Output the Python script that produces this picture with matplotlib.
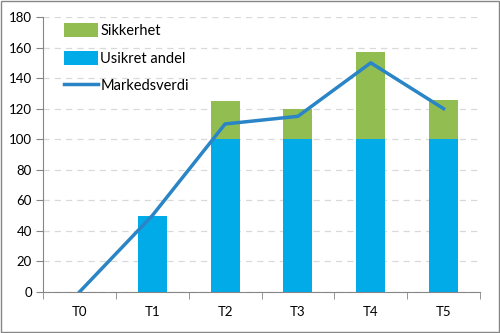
import numpy as np
import matplotlib
matplotlib.use("Agg")
from matplotlib import pyplot as plt
from matplotlib.patches import Rectangle

matplotlib.rcParams.update({'font.size': 9.5, 'font.family': ['Lato', 'DejaVu Sans']})

# --- data ---
categories = ["T0", "T1", "T2", "T3", "T4", "T5"]
usikret = [0, 50, 100, 100, 100, 100]
sikkerhet = [0, 0, 25, 20, 57, 26]
markedsverdi = [0, 50, 110, 115, 150, 120]

blue_bar = "#00ABE8"
green_bar = "#92BD50"
line_col = "#2A85C7"
grey = "#868686"

fig = plt.figure(figsize=(5, 3.33), dpi=100)
ax = fig.add_axes([0.086, 0.123, 0.874, 0.826])

x = np.arange(len(categories))
ax.bar(x, usikret, width=0.4, color=blue_bar, label="Usikret andel", zorder=2)
ax.bar(x, sikkerhet, width=0.4, bottom=usikret, color=green_bar, label="Sikkerhet", zorder=2)
ax.plot(x, markedsverdi, color=line_col, linewidth=2.5, label="Markedsverdi", zorder=3)

ax.set_xlim(-0.5, len(categories) - 0.5)
ax.set_ylim(0, 180)
ax.set_yticks(np.arange(0, 181, 20))
ax.grid(axis='y', color='#D9D9D9', linestyle=(0, (5, 4)), linewidth=0.9, zorder=0)

# category labels centred, tick marks on the boundaries
ax.set_xticks(x)
ax.set_xticklabels(categories)
ax.tick_params(axis='x', which='major', length=0, pad=10)
ax.set_xticks(np.arange(-0.5, len(categories), 1), minor=True)
ax.tick_params(axis='x', which='minor', length=5, color=grey, direction='out')
ax.tick_params(axis='y', length=5, color=grey, direction='out', pad=3)

for s in ['top', 'right']:
    ax.spines[s].set_visible(False)
for s in ['left', 'bottom']:
    ax.spines[s].set_color(grey)

handles, labels = ax.get_legend_handles_labels()
order = [2, 1, 0]
ax.legend([handles[i] for i in order], [labels[i] for i in order],
          loc='upper left', bbox_to_anchor=(0.018, 1.025), frameon=False,
          handlelength=2.3, handleheight=1.1, labelspacing=0.85,
          handletextpad=0.2, fontsize=10.5)

fig.patches.append(Rectangle((0.002, 0.003), 0.996, 0.994, transform=fig.transFigure,
                             fill=False, edgecolor=grey, linewidth=1))

fig.savefig("out.png", dpi=100)
